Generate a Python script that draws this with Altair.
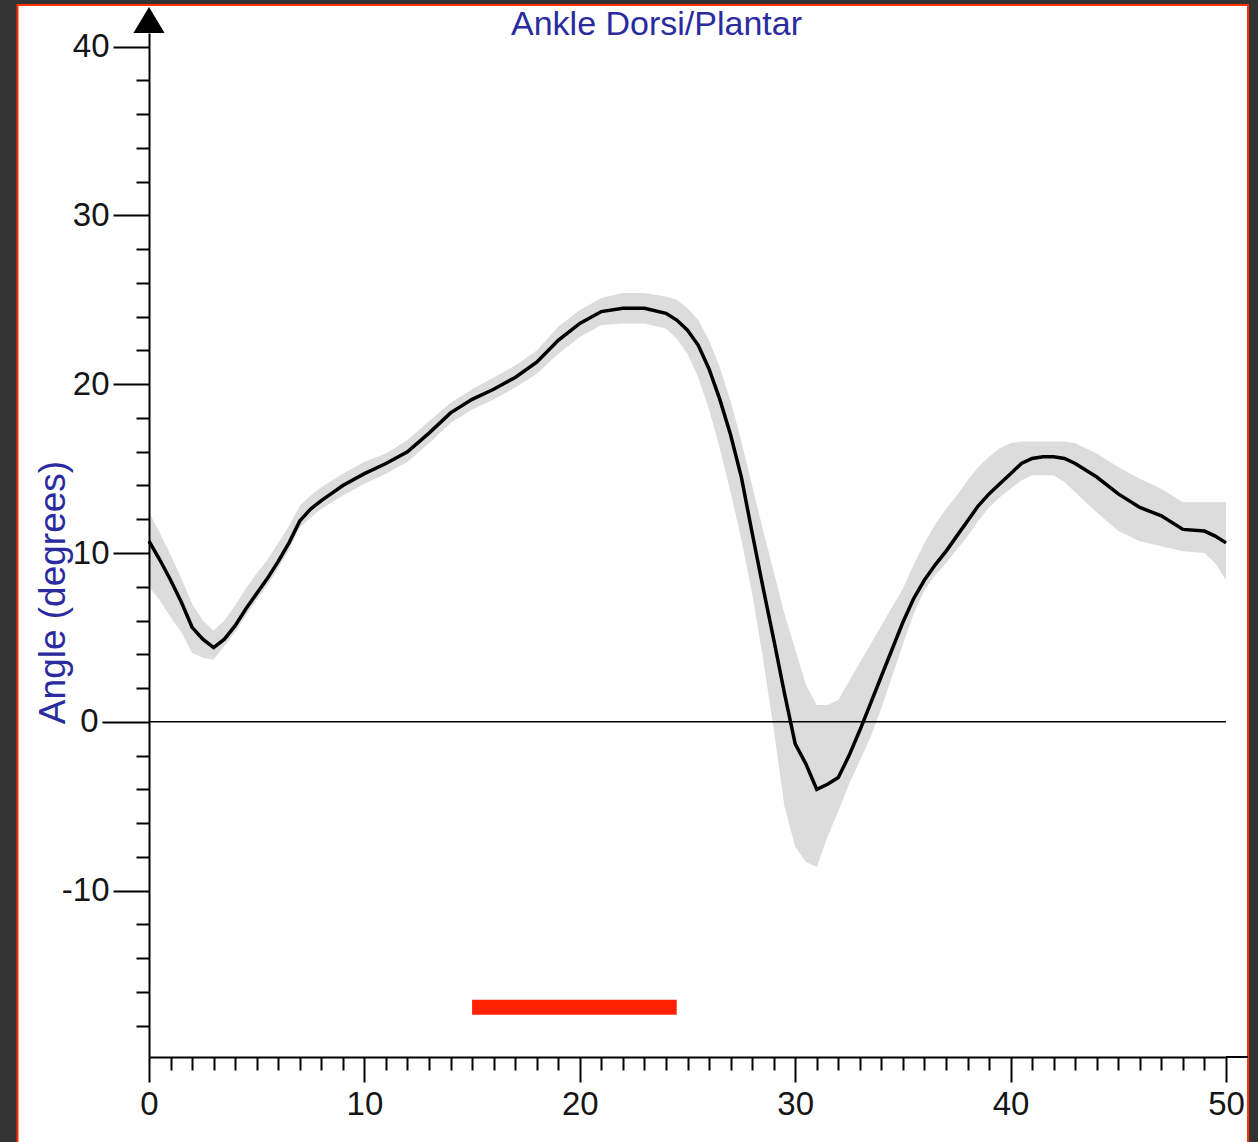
import altair as alt
import pandas as pd

# ---- data ----
pct = [0, 0.5, 1, 1.5, 2, 2.5, 3, 3.5, 4, 4.5, 5, 5.5, 6, 6.5, 7, 7.5, 8, 9, 10,
       11, 12, 13, 14, 15, 16, 17, 18, 19, 20, 21, 22, 23, 24, 24.5, 25, 25.5,
       26, 26.5, 27, 27.5, 28, 28.5, 29, 29.5, 30, 30.5, 31, 31.5, 32, 32.5,
       33, 33.5, 34, 34.5, 35, 35.5, 36, 36.5, 37, 37.5, 38, 38.5, 39, 39.5,
       40, 40.5, 41, 41.5, 42, 42.5, 43, 44, 45, 46, 47, 48, 49, 49.5, 50]
mean_angle = [10.7, 9.6, 8.4, 7.1, 5.6, 4.9, 4.4, 4.9, 5.7, 6.7, 7.6, 8.5, 9.5,
              10.6, 11.9, 12.6, 13.1, 14.0, 14.7, 15.3, 16.0, 17.1, 18.3, 19.1,
              19.7, 20.4, 21.3, 22.6, 23.6, 24.3, 24.5, 24.5, 24.2, 23.8, 23.2,
              22.3, 20.9, 19.1, 17.0, 14.5, 11.2, 8.0, 4.9, 1.7, -1.3, -2.5,
              -4.0, -3.7, -3.3, -2.0, -0.5, 1.1, 2.7, 4.3, 5.9, 7.3, 8.4, 9.3,
              10.1, 11.0, 11.9, 12.8, 13.5, 14.1, 14.7, 15.3, 15.6, 15.7, 15.7,
              15.6, 15.3, 14.5, 13.5, 12.7, 12.2, 11.4, 11.3, 11.0, 10.6]
lower_angle = [8.0, 7.2, 6.2, 5.3, 4.1, 3.8, 3.7, 4.5, 5.3, 6.3, 7.2, 8.1, 9.1,
               10.2, 11.5, 12.1, 12.6, 13.4, 14.1, 14.7, 15.4, 16.5, 17.7, 18.5,
               19.1, 19.8, 20.6, 21.8, 22.8, 23.5, 23.6, 23.6, 23.3, 22.7, 21.8,
               20.4, 18.5, 16.2, 13.6, 10.8, 7.6, 3.8, -0.4, -5.0, -7.4, -8.3,
               -8.6, -6.8, -5.3, -3.7, -2.3, -0.9, 0.8, 2.7, 4.6, 6.4, 7.8, 8.7,
               9.4, 10.2, 11.0, 11.9, 12.7, 13.3, 13.8, 14.3, 14.6, 14.6, 14.6,
               14.2, 13.6, 12.4, 11.3, 10.7, 10.4, 10.1, 10.0, 9.4, 8.4]
upper_angle = [12.4, 11.2, 9.9, 8.5, 7.0, 6.0, 5.4, 6.0, 6.9, 7.9, 8.8, 9.6,
               10.6, 11.6, 12.8, 13.4, 13.9, 14.7, 15.4, 15.9, 16.7, 17.8, 18.9,
               19.7, 20.4, 21.1, 22.0, 23.4, 24.4, 25.1, 25.4, 25.4, 25.2, 25.0,
               24.5, 23.8, 22.6, 21.0, 19.0, 16.6, 14.0, 11.4, 8.9, 6.4, 4.3,
               2.2, 1.0, 1.0, 1.3, 2.4, 3.5, 4.6, 5.7, 6.8, 7.9, 9.3, 10.6, 11.7,
               12.6, 13.4, 14.3, 15.1, 15.7, 16.2, 16.5, 16.6, 16.6, 16.6, 16.6,
               16.6, 16.5, 15.9, 15.1, 14.4, 13.8, 13.0, 13.0, 13.0, 13.0]

bar_start = [15.0]
bar_end = [24.5]
bar_level = [-16.9]
zero_level = [0]

x_tick_values = list(range(0, 51))
y_tick_values = list(range(-18, 41, 2))

TITLE = "Ankle Dorsi/Plantar"
Y_TITLE = "Angle (degrees)"

FONT = "Liberation Sans"
BLUE = "#2b2ba0"
LABEL_COLOR = "#151515"

df = pd.DataFrame({"pct": pct, "angle": mean_angle, "lo": lower_angle, "hi": upper_angle})
bar_df = pd.DataFrame({"start": bar_start, "end": bar_end, "level": bar_level})
zero_df = pd.DataFrame({"level": zero_level})
one_row = pd.DataFrame({"k": [0]})

xscale = alt.Scale(domain=[0, 50], nice=False, zero=False)
yscale = alt.Scale(domain=[-19.85, 40.8], nice=False, zero=False)

major_label = "datum.value % 10 === 0 ? toString(datum.value) : ''"

x_axis = alt.Axis(
    values=x_tick_values, tickCount=500,
    tickSize={"condition": {"test": "datum.value % 10 === 0", "value": 25}, "value": 13},
    labelExpr=major_label,
    tickColor="black", tickWidth=2, domainColor="black", domainWidth=2,
    labelFont=FONT, labelFontSize=33, labelColor=LABEL_COLOR, labelPadding=6,
    labelOverlap=False, labelFlush=False, labelBound=False, grid=False, title=None,
    zindex=2,
)
y_axis = alt.Axis(
    values=y_tick_values, tickCount=500,
    tickSize={"condition": [{"test": "datum.value === 0", "value": 47},
                            {"test": "datum.value % 10 === 0", "value": 36}],
              "value": 13},
    labelExpr=major_label,
    tickColor="black", tickWidth=2, domainColor="black", domainWidth=2,
    labelFont=FONT, labelFontSize=33, labelColor=LABEL_COLOR, labelPadding=4,
    labelOverlap=False, labelFlush=False, labelBound=False, grid=False,
    title=Y_TITLE, titleFont=FONT, titleFontSize=37, titleFontWeight="normal",
    titleColor=BLUE, titleX=-96, titleY=559, titleAngle=270,
    titleAlign="center", titleBaseline="middle",
    zindex=2,
)

frame = alt.Chart(one_row).mark_rect(
    fill="white", stroke="#ff3300", strokeWidth=2
).encode(
    x=alt.value(-131.5), x2=alt.value(1099), y=alt.value(-28), y2=alt.value(1130)
)

band = alt.Chart(df).mark_area(color="#dcdcdc", opacity=1).encode(
    x=alt.X("pct:Q", scale=xscale, axis=x_axis),
    y=alt.Y("lo:Q", scale=yscale, axis=y_axis),
    y2="hi:Q",
)

zero = alt.Chart(zero_df).mark_rule(color="black", strokeWidth=1.5).encode(
    y=alt.Y("level:Q", scale=yscale)
)

line = alt.Chart(df).mark_line(color="black", strokeWidth=3.5).encode(
    x=alt.X("pct:Q", scale=xscale),
    y=alt.Y("angle:Q", scale=yscale),
)

bar = alt.Chart(bar_df).mark_rule(color="#ff2200", strokeWidth=15, strokeCap="butt").encode(
    x=alt.X("start:Q", scale=xscale),
    x2="end:Q",
    y=alt.Y("level:Q", scale=yscale),
)

axis_extension = alt.Chart(one_row).mark_rule(color="black", strokeWidth=2).encode(
    x=alt.value(1077), x2=alt.value(1099), y=alt.value(1024)
)

arrow = alt.Chart(one_row).mark_point(
    shape="M-1.2,1L0,-1L1.2,1Z", size=676, filled=True, color="black", opacity=1
).encode(x=alt.value(0), y=alt.value(-13))

chart = alt.layer(frame, band, zero, line, bar, axis_extension, arrow).properties(
    width=1077,
    height=1024,
    title=alt.TitleParams(
        TITLE, font=FONT, fontSize=34, fontWeight="normal", color=BLUE,
        anchor="middle", dx=-31, dy=42,
    ),
    autosize=alt.AutoSizeParams(type="none"),
    padding={"left": 149, "top": 33, "right": 32, "bottom": 85},
    background="#333333",
).configure_view(strokeWidth=0)

chart.save("out.html", embed_options={"renderer": "svg", "actions": False})
